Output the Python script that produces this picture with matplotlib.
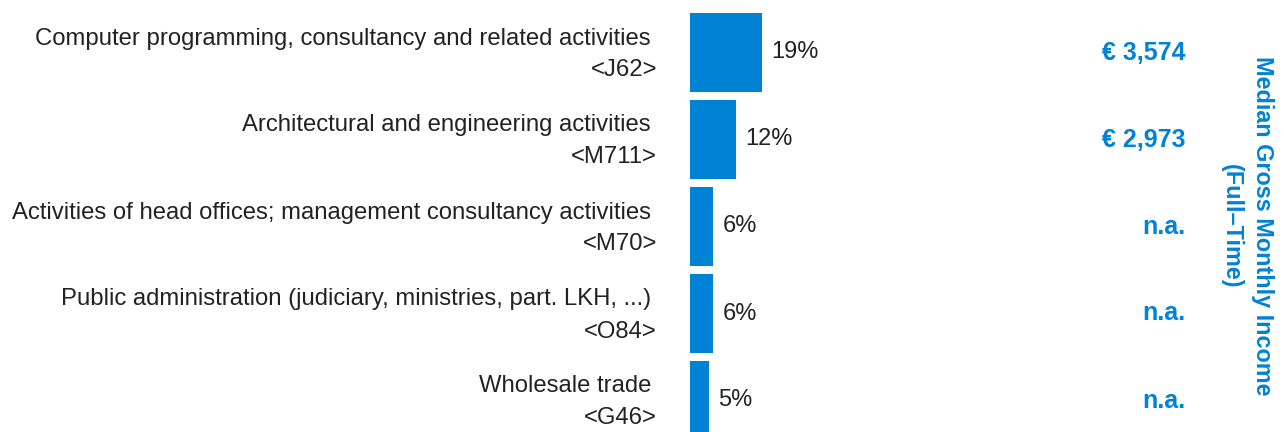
import matplotlib
matplotlib.use("Agg")
import matplotlib.pyplot as plt

plt.rcParams['font.family'] = ['Liberation Sans', 'DejaVu Sans']

industries = [
    "Computer programming, consultancy and related activities",
    "Architectural and engineering activities",
    "Activities of head offices; management consultancy activities",
    "Public administration (judiciary, ministries, part. LKH, ...)",
    "Wholesale trade",
]
codes = ["<J62>", "<M711>", "<M70>", "<O84>", "<G46>"]
shares = [19, 12, 6, 6, 5]
incomes = ["€ 3,574", "€ 2,973", "n.a.", "n.a.", "n.a."]

blue = "#0082d5"
W, H = 1284, 432
fig = plt.figure(figsize=(W / 100, H / 100), dpi=100)
# axes spans x pixels 690..1090, full height
ax = fig.add_axes([690 / W, 0, 400 / W, 1])
ax.set_xlim(0, 400 / 3.8)
ax.set_ylim((432 - 52.5) / 87, -52.5 / 87)
ax.axis("off")

ypos = list(range(len(shares)))
ax.barh(ypos, shares, height=79 / 87, color=blue, clip_on=True)

for i, v in enumerate(shares):
    ax.text(v + 2.5, i, f"{v}%", va="center", ha="left", fontsize=17, color="#222222")

# left labels in pixel coordinates
for i, (name, code) in enumerate(zip(industries, codes)):
    yc = 52.5 + 87 * i
    fig.text(651 / W, 1 - (yc - 14) / H, name, ha="right", va="center",
             fontsize=17.2, color="#222222")
    fig.text(657 / W, 1 - (yc + 18) / H, code, ha="right", va="center",
             fontsize=17.2, color="#222222")
    fig.text(1185 / W, 1 - yc / H, incomes[i], ha="right", va="center",
             fontsize=18, fontweight="bold", color=blue)

fig.text(1247 / W, 1 - 226 / H, "Median Gross Monthly Income\n(Full\u2013Time)",
         rotation=270, ha="center", va="center", fontsize=16.8, fontweight="bold",
         color=blue, multialignment="center", linespacing=1.45)

fig.savefig("out.png", dpi=100)
